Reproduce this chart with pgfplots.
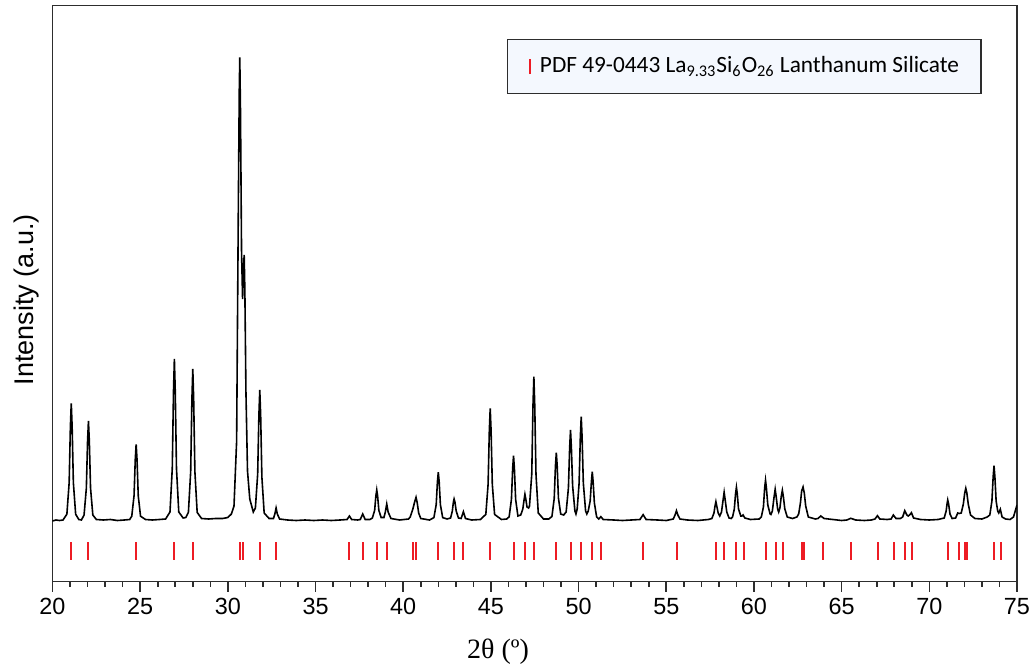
\documentclass[border=0pt]{standalone}
\usepackage{pgfplots}
\pgfplotsset{compat=1.18}
\usepackage{fontspec}
\newfontfamily\arialfont{Liberation Sans}
\newfontfamily\timesfont{Liberation Serif}
\newfontfamily\calibrifont{Carlito}
\definecolor{refred}{RGB}{237,28,36}
\definecolor{legfill}{RGB}{244,248,254}
\definecolor{framegray}{RGB}{45,45,45}

\pgfplotstableread{
x y
20.00 60.0
20.20 61.0
20.40 60.5
20.60 61.0
20.82 66.8
20.95 98.3
21.02 154.4
21.07 177.7
21.12 154.4
21.19 98.3
21.32 66.8
21.50 61.5
21.65 61.0
21.80 66.0
21.93 92.7
22.00 140.2
22.05 160.0
22.10 140.2
22.17 92.7
22.30 66.0
22.50 61.5
22.90 61.0
23.30 61.5
23.70 60.5
24.10 61.0
24.40 61.5
24.52 64.8
24.65 85.2
24.72 121.6
24.77 136.7
24.82 121.6
24.89 85.2
25.02 64.8
25.30 61.5
25.70 61.0
26.10 61.5
26.45 62.0
26.70 69.0
26.83 112.5
26.90 189.8
26.95 222.0
27.00 189.8
27.07 112.5
27.20 69.0
27.45 63.0
27.60 63.5
27.75 68.6
27.88 109.3
27.95 181.8
28.00 212.0
28.05 181.8
28.12 109.3
28.25 68.6
28.50 62.5
28.90 62.0
29.30 62.5
29.70 62.5
30.00 63.5
30.20 67.0
30.35 75.0
30.50 140.0
30.60 380.0
30.65 490.0
30.68 523.7
30.72 470.0
30.78 330.0
30.84 282.0
30.90 315.0
30.93 326.0
30.97 290.0
31.03 190.0
31.12 110.0
31.25 82.0
31.45 69.0
31.57 73.0
31.70 107.0
31.77 166.0
31.82 191.0
31.87 166.0
31.94 104.0
32.07 68.0
32.35 62.5
32.60 62.5
32.68 67.0
32.75 73.0
32.82 67.0
32.95 62.0
33.40 61.0
33.90 60.5
34.40 61.0
34.90 60.5
35.40 61.0
35.90 60.5
36.40 61.0
36.80 61.5
36.93 65.0
37.06 61.5
37.40 61.0
37.55 61.5
37.69 67.0
37.83 61.5
38.10 61.5
38.24 63.0
38.37 70.6
38.44 85.0
38.49 91.0
38.54 85.0
38.61 70.6
38.74 63.5
38.90 63.5
38.98 69.0
39.06 77.0
39.14 69.0
39.30 62.5
39.80 61.0
40.30 62.0
40.40 64.0
40.55 72.0
40.65 79.0
40.73 83.7
40.80 78.0
40.88 68.0
41.00 62.5
41.50 61.0
41.75 63.4
41.88 76.3
41.95 99.2
42.00 108.7
42.05 99.2
42.12 76.3
42.25 63.4
42.50 62.0
42.70 63.0
42.80 70.0
42.86 78.8
42.90 82.0
42.95 78.8
43.02 70.0
43.15 63.0
43.30 62.5
43.43 69.3
43.55 62.5
43.90 61.0
44.40 61.5
44.71 66.6
44.84 96.7
44.91 150.4
44.96 172.7
45.01 150.4
45.08 96.7
45.21 66.6
45.60 61.5
45.90 62.0
46.04 64.2
46.17 81.6
46.24 112.4
46.29 125.3
46.34 112.4
46.41 81.6
46.54 65.0
46.70 66.0
46.82 72.0
46.89 81.0
46.94 86.7
46.99 82.0
47.06 74.0
47.15 73.0
47.20 75.0
47.33 107.0
47.40 175.7
47.45 204.3
47.50 175.7
47.57 107.0
47.70 68.0
48.00 62.0
48.30 62.0
48.48 64.5
48.61 82.5
48.68 115.0
48.73 128.3
48.78 115.0
48.85 83.0
48.98 67.0
49.15 66.0
49.29 69.0
49.42 93.0
49.49 133.0
49.54 151.0
49.59 133.0
49.66 95.0
49.79 70.0
49.85 67.0
49.92 72.0
50.03 98.0
50.10 144.0
50.15 164.3
50.20 144.0
50.27 98.0
50.40 70.0
50.47 67.0
50.55 70.0
50.66 80.0
50.73 99.0
50.78 109.3
50.83 99.0
50.90 78.0
51.03 64.0
51.15 62.0
51.27 64.3
51.40 61.5
52.00 61.0
52.50 60.5
53.00 61.0
53.50 61.5
53.68 66.3
53.85 61.5
54.50 61.0
55.00 60.5
55.40 62.0
55.50 66.0
55.58 70.3
55.66 66.0
55.78 62.0
56.20 61.0
56.80 60.5
57.40 61.5
57.60 62.5
57.72 68.0
57.78 75.0
57.83 79.3
57.88 75.0
57.96 68.0
58.05 65.0
58.15 69.0
58.24 81.0
58.30 88.7
58.36 81.0
58.45 69.0
58.58 63.0
58.70 62.5
58.78 64.0
58.88 72.0
58.95 87.0
59.00 93.7
59.05 87.0
59.12 72.0
59.25 65.0
59.32 65.0
59.38 66.0
59.48 63.0
59.80 61.5
60.30 62.0
60.42 64.0
60.54 74.0
60.61 93.0
60.66 100.7
60.71 93.0
60.79 76.0
60.92 67.0
60.97 66.5
61.05 70.0
61.14 83.0
61.21 91.7
61.27 84.0
61.35 72.0
61.41 69.0
61.48 73.0
61.56 85.0
61.62 90.7
61.68 84.0
61.76 72.0
61.90 64.0
62.20 62.5
62.45 64.0
62.55 67.0
62.65 78.0
62.72 90.0
62.80 94.0
62.87 88.0
62.95 75.0
63.10 64.0
63.50 62.0
63.65 62.5
63.81 65.0
64.00 62.5
64.50 61.5
65.00 60.5
65.30 61.0
65.52 62.7
65.80 61.0
66.30 60.5
66.70 61.0
66.90 62.0
67.04 65.3
67.18 62.0
67.60 61.5
67.82 62.0
67.95 66.0
68.10 62.5
68.35 62.5
68.48 64.0
68.60 70.3
68.72 66.0
68.80 65.0
68.90 66.5
68.98 68.3
69.10 63.0
69.50 61.5
70.00 61.0
70.50 61.5
70.85 63.0
70.96 70.0
71.01 77.0
71.05 81.0
71.10 77.0
71.18 67.0
71.30 62.5
71.50 63.0
71.62 68.0
71.70 67.5
71.82 68.0
71.94 77.0
72.02 88.0
72.08 92.7
72.14 88.0
72.22 77.0
72.35 66.0
72.60 62.5
73.00 62.0
73.30 64.0
73.45 66.0
73.57 80.0
73.64 104.0
73.69 115.3
73.74 104.0
73.81 80.0
73.90 70.0
73.96 68.0
74.05 71.7
74.15 64.0
74.35 62.0
74.60 61.5
74.80 64.0
75.00 76.0
}\xrdtable

\pgfplotstableread{
x y
21.07 30
22.05 30
24.77 30
26.95 30
28.00 30
30.68 30
30.89 30
31.82 30
32.73 30
36.93 30
37.69 30
38.49 30
39.06 30
40.54 30
40.75 30
42.00 30
42.90 30
43.43 30
44.96 30
46.29 30
46.96 30
47.45 30
48.73 30
49.54 30
50.15 30
50.78 30
51.27 30
53.68 30
55.60 30
57.86 30
58.30 30
59.00 30
59.44 30
60.66 30
61.23 30
61.64 30
62.72 30
62.83 30
63.91 30
65.52 30
67.08 30
68.00 30
68.63 30
69.01 30
71.07 30
71.70 30
72.06 30
72.17 30
73.69 30
74.07 30
}\reftable

\begin{document}
\begin{tikzpicture}
\begin{axis}[name=ax, scale only axis, width=482.25pt, height=288pt,
  xmin=20, xmax=75, ymin=-0.5, ymax=575.5,
  xtick={20,25,...,75}, minor x tick num=4, ytick=\empty,
  xtick pos=bottom, tick align=outside,
  major tick length=5pt, minor tick length=2.5pt,
  axis line style={framegray, line width=0.8pt},
  tick style={framegray, line width=0.8pt},
  /pgf/number format/assume math mode=true,
  xticklabel style={font=\arialfont\fontsize{11.7}{14}\selectfont, text=black},
  xlabel={2θ (º)},
  xlabel style={font=\timesfont\fontsize{14}{16}\selectfont, at={(axis description cs:0.462,-0.1224)}, anchor=center},
  ylabel={Intensity (a.u.)},
  ylabel style={font=\arialfont\fontsize{13.5}{16}\selectfont, at={(axis description cs:-0.0267,0.489)}, anchor=center},
  legend style={at={(0.471,0.9425)}, anchor=north west, fill=legfill, draw=framegray,
    line width=0.6pt, inner xsep=11pt, inner ysep=8.8pt, nodes={inner sep=0pt},
    font=\calibrifont\fontsize{11.65}{14}\selectfont,
    /tikz/every odd column/.append style={column sep=4.3pt}},
]
\addplot[black, line width=0.8pt, forget plot] table[x=x, y=y] {\xrdtable};
\addplot[only marks, mark=|, mark size=4.5pt, refred, mark options={line width=1pt},
  legend image code/.code={\draw[refred, line width=1pt] (0pt,-3.8pt) -- (0pt,3.8pt);}]
  table[x=x, y=y] {\reftable};
\addlegendentry{PDF 49-0443 La\textsubscript{9.33}Si\textsubscript{6}O\textsubscript{26} Lanthanum Silicate}
\end{axis}
\pgfresetboundingbox
\path ([shift={(-26.25pt,-44.25pt)}]ax.south west) rectangle ([shift={(9pt,2.75pt)}]ax.north east);
\end{tikzpicture}
\end{document}
